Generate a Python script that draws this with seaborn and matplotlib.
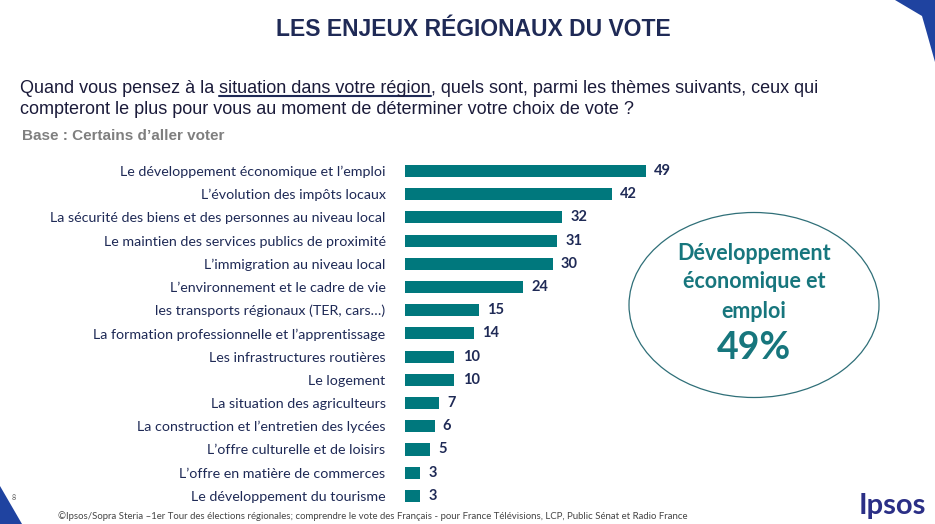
import numpy as np
import pandas as pd
import matplotlib.pyplot as plt
import seaborn as sns
from matplotlib.patches import Ellipse, Polygon

# Data
themes = [
    "Le développement économique et l’emploi",
    "L’évolution des impôts locaux",
    "La sécurité des biens et des personnes au niveau local",
    "Le maintien des services publics de proximité",
    "L’immigration au niveau local",
    "L’environnement et le cadre de vie",
    "les transports régionaux (TER, cars…)",
    "La formation professionnelle et l’apprentissage",
    "Les infrastructures routières",
    "Le logement",
    "La situation des agriculteurs",
    "La construction et l’entretien des lycées",
    "L’offre culturelle et de loisirs",
    "L’offre en matière de commerces",
    "Le développement du tourisme",
]
scores = [49, 42, 32, 31, 30, 24, 15, 14, 10, 10, 7, 6, 5, 3, 3]

title = "LES ENJEUX RÉGIONAUX DU VOTE"
question_a = "Quand vous pensez à la "
question_u = "situation dans votre région"
question_b = ", quels sont, parmi les thèmes suivants, ceux qui"
question_2 = "compteront le plus pour vous au moment de déterminer votre choix de vote ?"
base_txt = "Base : Certains d’aller voter"
focus_lines = ["Développement", "économique et", "emploi"]
focus_value = "49%"
footer = ("©Ipsos/Sopra Steria –1er Tour des élections régionales; comprendre le vote des Français"
          " - pour France Télévisions, LCP, Public Sénat et Radio France")

TEAL = "#00787D"
NAVY = "#1F2A56"
BODY = "Lato"
HEAD = ["Liberation Sans Narrow", "Liberation Sans", "DejaVu Sans"]

df = pd.DataFrame({"theme": themes, "score": scores})

sns.set_theme(style="white")
plt.rcParams["font.family"] = [BODY, "DejaVu Sans"]

W, H = 935, 524
fig = plt.figure(figsize=(W / 100, H / 100), dpi=100)
fig.patch.set_facecolor("white")

# Bar chart axes
ax = fig.add_axes([405 / W, 1 - 507.5 / H, 295 / W, (507.5 - 159.3) / H])
sns.barplot(data=df, x="score", y="theme", color=TEAL, saturation=1,
            width=0.52, ax=ax, edgecolor="none")
ax.set_xlim(0, 60)
ax.set_xlabel("")
ax.set_ylabel("")
ax.set_xticks([])
ax.tick_params(axis="y", length=0, pad=14, labelsize=10.3, labelcolor=NAVY)
sns.despine(ax=ax, left=True, bottom=True)
for i, v in enumerate(scores):
    ax.text(v + 1.7, i, str(v), va="center", ha="left", fontsize=10.5,
            fontweight="bold", color=NAVY)

# Title
fig.text(473 / W, 1 - 30 / H, title, ha="center", va="center", fontsize=16.5,
         fontweight="bold", color=NAVY, family=HEAD)

# Question with underlined part
fig.canvas.draw()
r = fig.canvas.get_renderer()
qy = 1 - 88 / H
qfs = 13
t1 = fig.text(20 / W, qy, question_a, fontsize=qfs, color="#1B1B3A",
              family=HEAD, va="center")
e1 = t1.get_window_extent(r)
t2 = fig.text(e1.x1 / W, qy, question_u, fontsize=qfs, color="#1B1B3A",
              family=HEAD, va="center")
e2 = t2.get_window_extent(r)
fig.add_artist(plt.Line2D([e2.x0 / W, e2.x1 / W], [1 - 95.5 / H] * 2,
                          color=NAVY, lw=1.5))
fig.text(e2.x1 / W, qy, question_b, fontsize=qfs, color="#1B1B3A",
         family=HEAD, va="center")
fig.text(20 / W, 1 - 110 / H, question_2, fontsize=qfs, color="#1B1B3A",
         family=HEAD, va="center")
fig.text(22 / W, 1 - 136 / H, base_txt, fontsize=11, color="#7F7F7F",
         fontweight="bold", family=HEAD, va="center")

# Highlight ellipse
fig.add_artist(Ellipse((754 / W, 1 - 305 / H), 250 / W, 185 / H,
                       transform=fig.transFigure, fill=False,
                       edgecolor="#2F6F78", lw=0.9))
for k, line in enumerate(focus_lines):
    fig.text(754 / W, 1 - (253 + 29 * k) / H, line, ha="center", va="center",
             fontsize=15.5, fontweight="bold", color="#17767D")
fig.text(754 / W, 1 - 348 / H, focus_value, ha="center", va="center",
         fontsize=27, fontweight="bold", color="#17767D")

# Decorations
fig.add_artist(Polygon([(895 / W, 1), (1, 1), (1, 1 - 62 / H), (926 / W, 1 - 30 / H),
                        (922 / W, 1 - 16 / H)], closed=True,
                       transform=fig.transFigure, color="#1F43A0", lw=0))
fig.add_artist(Polygon([(0, 1 - 486 / H), (22 / W, 0), (0, 0)], closed=True,
                       transform=fig.transFigure, color="#1F43A0", lw=0))
fig.text(12 / W, 1 - 497 / H, "8", fontsize=5, color="#555555", va="center")
fig.text(58 / W, 1 - 516 / H, footer, fontsize=6.9, color="#444444", va="center")
fig.text(892 / W, 1 - 506 / H, "Ipsos", ha="center", va="center", fontsize=21,
         fontweight="bold", color="#2B2F86")

fig.savefig("out.png", dpi=100)
plt.close(fig)
